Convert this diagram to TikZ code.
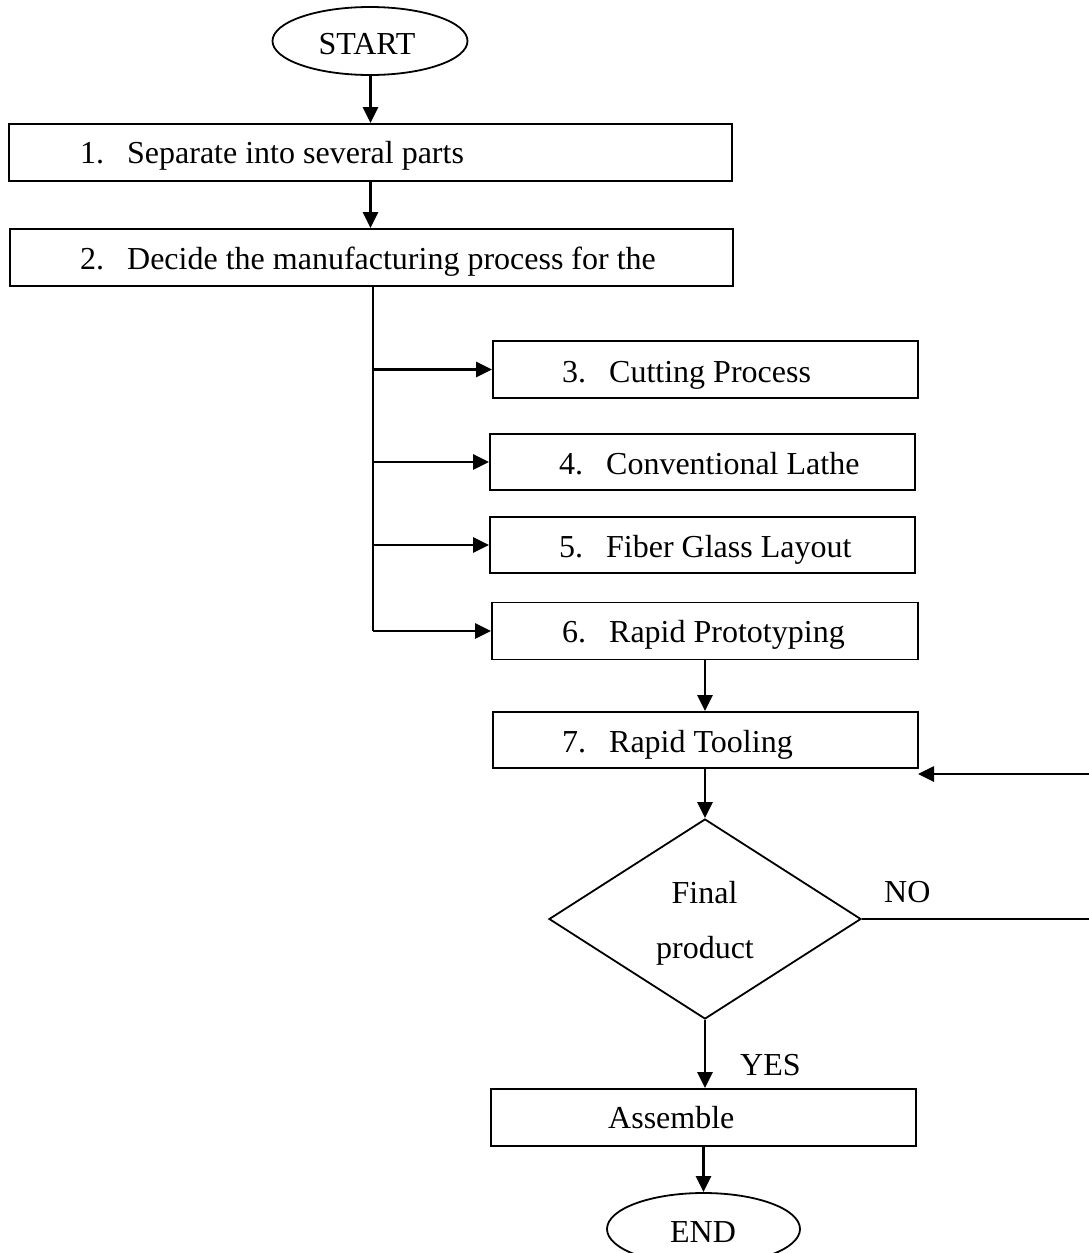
\documentclass[tikz,border=0pt]{standalone}
\usepackage{fontspec}
\setmainfont{Liberation Serif}
\usetikzlibrary{arrows.meta,shapes.geometric}
\begin{document}
\begin{tikzpicture}[x=1pt,y=-1pt,
  box/.style={draw, line width=1.8pt, rectangle, inner sep=0pt},
  oval/.style={draw, line width=1.8pt, ellipse, inner sep=0pt},
  txt/.style={anchor=base west, inner sep=0pt, font=\fontsize{32}{38}\selectfont},
  ctxt/.style={anchor=base, inner sep=0pt, font=\fontsize{32}{38}\selectfont},
  arr/.style={line width=2.7pt, -{Triangle[length=16pt,width=15pt]}},
  ln/.style={line width=2.3pt}]
\useasboundingbox (0,0) rectangle (1089,1253);
\newcommand{\numb}[1]{\makebox[47pt][l]{#1}}

% shapes
\node[oval, minimum width=195pt, minimum height=68pt] (start) at (370,41) {};
\node[box, minimum width=723pt, minimum height=57pt] (b1) at (370.5,152.5) {};
\node[box, minimum width=723pt, minimum height=57pt] (b2) at (371.5,257.5) {};
\node[box, minimum width=425pt, minimum height=57pt] (b3) at (705.5,369.5) {};
\node[box, minimum width=425pt, minimum height=56pt] (b4) at (702.5,462) {};
\node[box, minimum width=425pt, minimum height=56pt] (b5) at (702.5,545) {};
\node[box, minimum width=426pt, minimum height=57pt] (b6) at (705,631) {};
\node[box, minimum width=425pt, minimum height=56pt] (b7) at (705.5,740) {};
\node[draw, diamond, line width=1.8pt, minimum width=312pt, minimum height=200pt, inner sep=0pt] (dec) at (705,919) {};
\node[box, minimum width=425pt, minimum height=57pt] (asm) at (703.5,1117.5) {};
\node[oval, minimum width=193pt, minimum height=72pt] (end) at (703.5,1229) {};

% texts
\node[ctxt] (tstart) at (367,54) {START};
\node[txt] (t1) at (80,163) {\numb{1.}Separate into several parts};
\node[txt] (t2) at (80,269) {\numb{2.}Decide the manufacturing process for the};
\node[txt] (t3) at (562,382) {\numb{3.}Cutting Process};
\node[txt] (t4) at (559,474) {\numb{4.}Conventional Lathe};
\node[txt] (t5) at (559,557) {\numb{5.}Fiber Glass Layout};
\node[txt] (t6) at (562,642) {\numb{6.}Rapid Prototyping};
\node[txt] (t7) at (562,752) {\numb{7.}Rapid Tooling};
\node[ctxt] (tfinal) at (704.5,903) {Final};
\node[ctxt] (tprod) at (705,958) {product};
\node[txt] (tno) at (884,902) {NO};
\node[txt] (tyes) at (740,1075) {YES};
\node[txt] (tasm) at (608,1128) {Assemble};
\node[ctxt] (tend) at (703,1242) {END};

% connectors
\coordinate (tb) at (373,631);
\coordinate (rb) at (1092,774);
\coordinate (back) at (918,774);
\draw[arr] (b1.north |- start.south) -- (b1.north);
\draw[arr] (b1.south) -- (b1.south |- b2.north);
\draw[ln] (b2.south -| tb) -- (tb |- b6.west);
\draw[arr] (tb |- b3.west) -- (b3.west);
\draw[arr] (tb |- b4.west) -- (b4.west);
\draw[arr] (tb |- b5.west) -- (b5.west);
\draw[arr] (tb |- b6.west) -- (b6.west);
\draw[arr] (b6.south) -- (b6.south |- b7.north);
\draw[arr] (b7.south -| dec.north) -- (dec.north);
\draw[arr] (dec.south) -- (dec.south |- asm.north);
\draw[arr] (asm.south) -- (asm.south |- end.north);
\draw[arr] (dec.east) -| (rb) -- (back);
\end{tikzpicture}
\end{document}
